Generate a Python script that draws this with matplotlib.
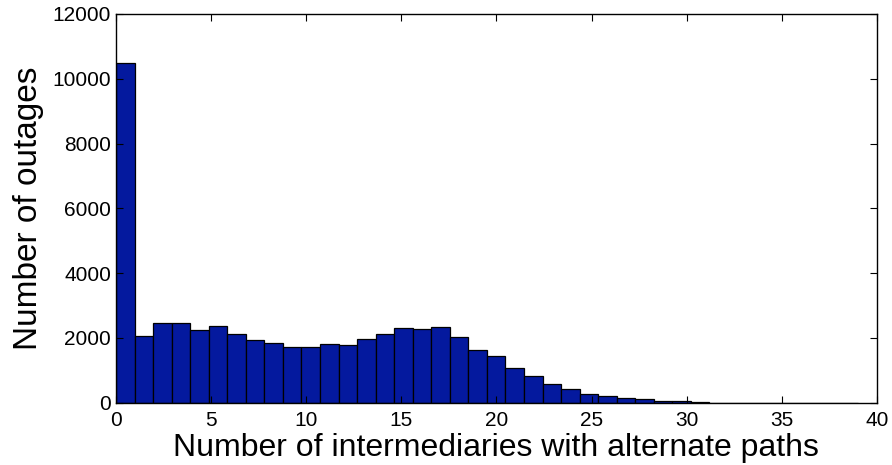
import numpy as np
import matplotlib
matplotlib.use("Agg")
import matplotlib.pyplot as plt

# histogram counts (40 bins spanning 0..39)
counts = [10500, 2050, 2470, 2450, 2235, 2360, 2130, 1945, 1845, 1720,
          1720, 1805, 1770, 1965, 2130, 2315, 2275, 2330, 2020, 1615,
          1430, 1060, 825, 585, 415, 260, 200, 135, 105, 52,
          40, 8, 4, 2, 1, 1, 0, 0, 0, 0]
xticks = [0, 5, 10, 15, 20, 25, 30, 35, 40]
yticks = [0, 2000, 4000, 6000, 8000, 10000, 12000]

plt.rcParams['font.family'] = ['Liberation Sans', 'DejaVu Sans']

edges = np.linspace(0, 39, len(counts) + 1)

fig = plt.figure(figsize=(8.92, 4.65), dpi=100)
ax = fig.add_axes([0.130, 0.134, 0.853, 0.836])
ax.bar(edges[:-1], counts, width=np.diff(edges), align='edge',
       color='#04199e', edgecolor='black', linewidth=0.9)

ax.set_xlim(0, 40)
ax.set_ylim(0, 12000)
ax.set_xticks(xticks)
ax.set_yticks(yticks)
ax.tick_params(axis='both', direction='in', top=True, right=True, length=5, labelsize=15)
ax.tick_params(axis='x', pad=6)
for s in ax.spines.values():
    s.set_linewidth(1.0)

ax.set_xlabel("Number of intermediaries with alternate paths", fontsize=23, labelpad=2)
ax.set_ylabel("Number of outages", fontsize=24, labelpad=6)

fig.savefig("out.png", dpi=100)
